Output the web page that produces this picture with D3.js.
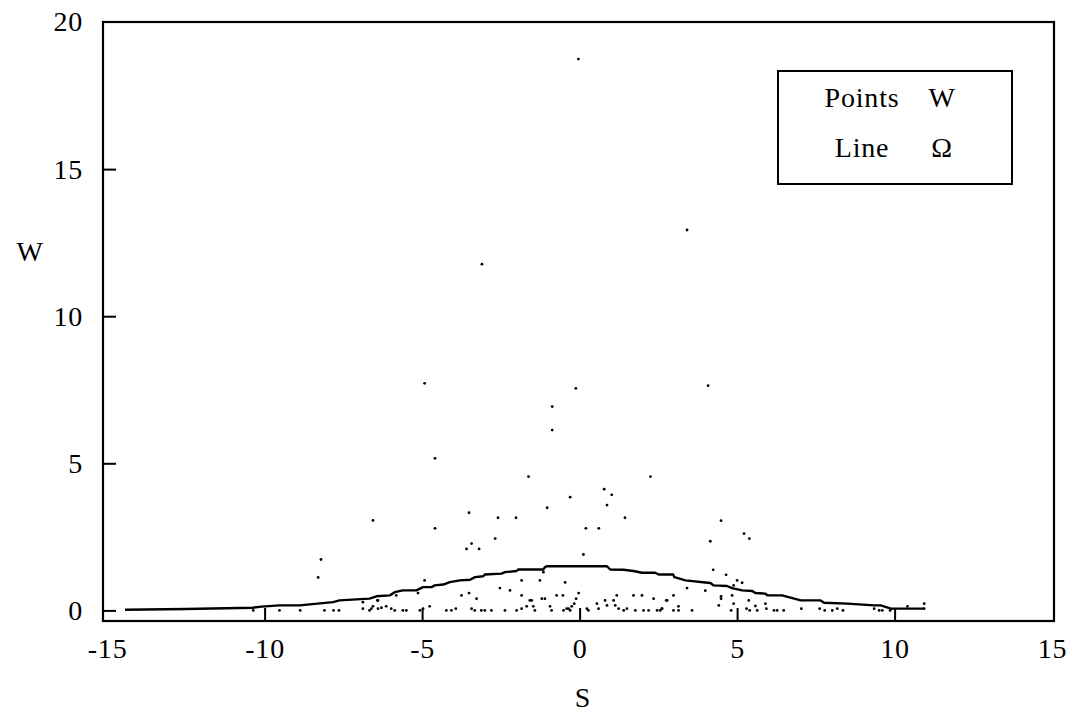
<!DOCTYPE html>
<html><head><meta charset="utf-8">
<script src="https://cdn.jsdelivr.net/npm/d3@7"></script>
<style>
html,body{margin:0;padding:0;background:#fff;}
svg{display:block;}
</style></head>
<body>
<svg id="chart" width="1078" height="719"></svg>
<script>
// Scatter points (S, W)
const pointS = [-0.04,3.41,-3.10,-4.92,-0.12,4.08,-0.87,-0.87,-4.59,-1.62,2.25,0.78,1.02,-0.30,0.87,-1.03,-3.51,-6.56,-2.59,-2.02,1.44,4.49,-4.59,0.20,0.61,5.22,5.39,-2.68,-3.43,-3.59,-3.19,4.15,0.12,-8.21,-8.30,4.24,4.65,5.00,5.16,4.89,3.41,3.99,4.49,4.49,4.84,2.98,2.75,4.89,5.37,4.42,5.58,5.90,3.14,2.61,2.98,3.14,3.57,4.81,5.30,5.40,5.64,5.93,6.17,6.27,6.48,7.04,7.62,7.78,8.02,8.18,8.36,9.35,9.51,9.61,9.86,10.41,10.94,10.94,
-10.36,-9.53,-8.87,-8.10,-7.81,-7.64,-6.88,-6.88,-6.67,-6.56,-6.42,
-6.61,-6.40,-6.29,-6.14,-5.98,-5.87,-5.61,-5.50,-5.07,-4.97,-4.76,-6.40,-5.82,-5.13,-4.92,-4.23,-4.07,-3.93,-3.75,-3.51,-3.43,-3.27,-3.33,-3.12,-3.01,-2.80,-2.53,-2.37,-2.21,-2.00,-1.84,-1.84,-1.84,-1.68,-1.58,-1.52,-1.47,-1.42,-1.26,-1.20,-1.10,-1.15,-0.94,-0.89,-0.73,-0.53,-0.46,-0.51,-0.41,-0.35,-0.30,-0.25,-0.17,-0.11,-0.03,0.23,0.28,0.55,0.60,0.81,0.87,1.08,1.18,1.13,1.24,1.40,1.50,1.71,1.77,1.98,2.03,2.19,2.35,2.46,2.56,2.62,2.78];
const pointW = [18.74,12.93,11.77,7.72,7.55,7.64,6.93,6.13,5.17,4.55,4.55,4.12,3.93,3.85,3.58,3.49,3.32,3.06,3.15,3.15,3.15,3.05,2.79,2.79,2.79,2.61,2.44,2.44,2.27,2.09,2.09,2.35,1.90,1.73,1.12,1.38,1.21,1.02,0.94,0.85,0.76,0.67,0.48,0.40,0.51,0.51,0.34,0.23,0.34,0.17,0.15,0.23,0.14,0.06,0,0,0,0,0.06,0,0,0.06,0,0,0,0.06,0.06,0,0,0.06,0,0.06,0,0,0,0.14,0.23,0.06,
0,0,0,0,0,0,0.06,0.28,0,0.14,0.34,
0.06,0.06,0.09,0.14,0.06,0,0,0,0,0.06,0.14,0.34,0.51,0.59,1.02,0,0,0.06,0.51,0.59,0.06,0.40,0,0,0,0,0.76,0,0.68,0,1.02,0.51,0.06,0.14,0.34,0.34,0.14,0,1.02,0.40,0.40,1.30,0.14,0,0.51,0.51,0.95,0,0.06,0.06,0,0.14,0.23,0.40,0.59,0.06,0,0.23,0.06,0.34,0.17,0.34,0.51,0.17,0.06,0,0.06,0.51,0,0.51,0,0,0.40,0,0,0.06,0.34];

// Line (S, Omega)
const lineS = [-14.43,-12.5,-10.38,-10.10,-9.53,-8.89,-7.83,-7.62,-6.67,-6.45,-6.03,-5.87,-5.61,-5.18,-4.97,-4.70,-4.60,-4.33,-4.12,-3.80,-3.48,-3.32,-3.06,-3.01,-2.48,-2.37,-2.00,-1.95,-1.15,-1.10,-1.04,0.87,0.97,1.39,1.71,1.98,2.40,2.51,2.97,3.01,3.36,3.99,4.15,4.26,4.68,4.84,5.16,5.48,5.58,5.90,5.96,6.43,7.02,7.65,7.76,8.50,9.35,9.56,9.88,10.94];
const lineW = [0.02,0.05,0.09,0.13,0.17,0.17,0.28,0.34,0.40,0.48,0.51,0.62,0.68,0.68,0.79,0.79,0.85,0.88,0.96,1.02,1.04,1.13,1.16,1.22,1.25,1.30,1.34,1.39,1.39,1.47,1.50,1.50,1.39,1.38,1.34,1.28,1.28,1.22,1.22,1.13,1.02,0.95,0.93,0.85,0.83,0.76,0.68,0.66,0.59,0.57,0.51,0.51,0.34,0.34,0.26,0.23,0.17,0.17,0.06,0.06];

const xTicks = [-15,-10,-5,0,5,10,15];
const yTicks = [0,5,10,15,20];
const xLabel = "S", yLabel = "W";
const legendNames = ["Points","Line"];
const legendSymbols = ["W","Ω"];

const svg = d3.select("#chart");
const L = 103, R = 1054, T = 22, B = 621;
const x = d3.scaleLinear().domain([-15.13, 15.06]).range([L, R]);
const y = d3.scaleLinear().domain([-0.36, 20]).range([B, T]);
const FS = 28, LS = "0.8px";
const SERIF = '"Liberation Serif", serif';
const fmt = d => String(d); // plain hyphen-minus like the reference

// axes
const gx = svg.append("g").attr("transform", `translate(0,${B})`)
  .call(d3.axisBottom(x).tickValues(xTicks).tickFormat(fmt).tickSizeInner(-13).tickSizeOuter(0).tickPadding(17));
const gy = svg.append("g").attr("transform", `translate(${L},0)`)
  .call(d3.axisLeft(y).tickValues(yTicks).tickFormat(fmt).tickSizeInner(-13).tickSizeOuter(0).tickPadding(20));
[gx, gy].forEach(g => {
  g.attr("font-family", SERIF).attr("font-size", FS);
  g.select(".domain").remove();
  g.selectAll(".tick line").attr("stroke", "#000").attr("stroke-width", 2);
  g.selectAll(".tick text").attr("fill", "#000").attr("font-family", SERIF).attr("letter-spacing", LS);
});
gx.selectAll(".tick").filter(d => d === -15 || d === 15).select("line").remove();
gy.selectAll(".tick").filter(d => d === 20).select("line").remove();

// frame
svg.append("rect").attr("x", L).attr("y", T).attr("width", R - L).attr("height", B - T)
  .attr("fill", "none").attr("stroke", "#000").attr("stroke-width", 2.2);

// line
const pts = lineS.map((s, i) => [s, lineW[i]]);
svg.append("path").datum(pts)
  .attr("d", d3.line().x(d => x(d[0])).y(d => y(d[1])))
  .attr("fill", "none").attr("stroke", "#000").attr("stroke-width", 2.4).attr("stroke-linejoin", "round");

// points
const scat = pointS.map((s, i) => [s, pointW[i]]);
svg.append("g").selectAll("circle").data(scat).join("circle")
  .attr("cx", d => x(d[0])).attr("cy", d => y(d[1])).attr("r", 1.4).attr("fill", "#000");

// text helper
const txt = (xx, yy, s) => svg.append("text").attr("x", xx).attr("y", yy).attr("text-anchor", "middle")
  .attr("font-family", SERIF).attr("font-size", FS).attr("letter-spacing", LS).attr("fill", "#000").text(s);
txt(583, 707, xLabel);
txt(30, 261, yLabel);

// legend
svg.append("rect").attr("x", 778).attr("y", 71).attr("width", 234).attr("height", 113)
  .attr("fill", "#fff").attr("stroke", "#000").attr("stroke-width", 2);
legendNames.forEach((n, i) => {
  txt(862, 107 + i * 50, n);
  txt(942, 107 + i * 50, legendSymbols[i]);
});
</script>
</body></html>
